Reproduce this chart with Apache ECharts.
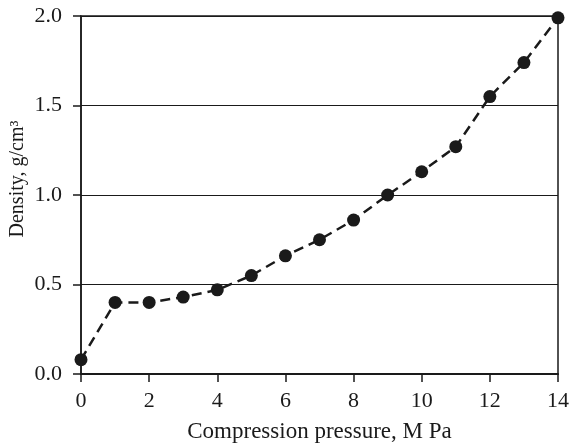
<!DOCTYPE html>
<html>
<head>
<meta charset="utf-8">
<script src="https://cdn.jsdelivr.net/npm/echarts@6/dist/echarts.min.js"></script>
<style>
  html, body { margin: 0; padding: 0; background: #fff; }
  #chart { width: 571px; height: 443px; }
</style>
</head>
<body>
<div id="chart"></div>
<script>
// pressure (MPa) and density (g/cm3)
const pressure = [0, 1, 2, 3, 4, 5, 6, 7, 8, 9, 10, 11, 12, 13, 14];
const density = [0.08, 0.40, 0.40, 0.43, 0.47, 0.55, 0.66, 0.75, 0.86, 1.00, 1.13, 1.27, 1.55, 1.74, 1.99];

const points = pressure.map((p, i) => [p, density[i]]);
const fontFamily = '"Liberation Serif", "DejaVu Serif", serif';

let myChart = echarts.init(document.getElementById('chart'));
let option = {
  animation: false,
  grid: {
    left: 81,
    right: 13,
    top: 16,
    bottom: 69,
    containLabel: false,
    outerBoundsMode: 'none',
    show: true,
    borderColor: '#1a1a1a',
    borderWidth: 1.5
  },
  xAxis: {
    type: 'value',
    min: 0,
    max: 14,
    interval: 2,
    name: 'Compression pressure, M Pa',
    nameLocation: 'middle',
    nameGap: 46,
    nameMoveOverlap: false,
    nameTextStyle: { fontFamily: fontFamily, fontSize: 23, color: '#1a1a1a' },
    axisLine: { show: true, lineStyle: { color: '#1a1a1a', width: 2 } },
    axisTick: { show: true, length: 8, lineStyle: { color: '#1a1a1a', width: 1.5 } },
    axisLabel: { fontFamily: fontFamily, fontSize: 22, color: '#1a1a1a', margin: 16 },
    splitLine: { show: false }
  },
  yAxis: {
    type: 'value',
    min: 0,
    max: 2,
    interval: 0.5,
    name: 'Density, g/cm³',
    nameLocation: 'middle',
    nameGap: 53,
    nameMoveOverlap: false,
    nameTextStyle: {
      fontFamily: fontFamily, fontSize: 20, color: '#1a1a1a',
      padding: [0, 0, 0, 32]
    },
    axisLine: { show: true, lineStyle: { color: '#1a1a1a', width: 1.5 } },
    axisTick: { show: true, length: 8, lineStyle: { color: '#1a1a1a', width: 1.5 } },
    axisLabel: {
      fontFamily: fontFamily, fontSize: 22, color: '#1a1a1a', margin: 19,
      formatter: v => v.toFixed(1)
    },
    splitLine: { show: true, lineStyle: { color: '#1a1a1a', width: 1.2 } }
  },
  series: [{
    type: 'line',
    data: points,
    symbol: 'circle',
    symbolSize: 13,
    itemStyle: { color: '#1a1a1a' },
    lineStyle: { color: '#1a1a1a', width: 2.5, type: [10, 6] }
  }]
};
myChart.setOption(option);
</script>
</body>
</html>
